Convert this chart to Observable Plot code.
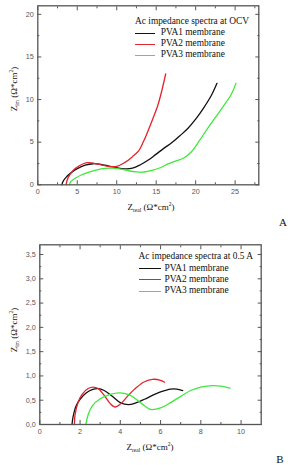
<!DOCTYPE html>
<html>
<head>
<meta charset="utf-8">
<script src="https://cdn.jsdelivr.net/npm/d3@7"></script>
<script src="https://cdn.jsdelivr.net/npm/@observablehq/plot@0.6"></script>
<style>
  body { margin: 0; background: #fff; }
  #fig { position: relative; width: 290px; height: 465px; font-family: "Liberation Serif", "Times New Roman", serif; color: #111; }
  .panel { position: absolute; left: 0; }
  .lg { position: absolute; font-size: 9.4px; line-height: 11px; white-space: nowrap; }
  .lg .sw { display: inline-block; height: 0; border-top: 1.4px solid; vertical-align: middle; }
  .xl { position: absolute; font-size: 9px; white-space: nowrap; transform: translate(-50%, -50%); }
  .yl { position: absolute; font-size: 9px; white-space: nowrap; transform: translate(-50%, -50%) rotate(-90deg); }
  .xl sub, .yl sub { font-size: 5.5px; vertical-align: -2px; }
  .xl sup, .yl sup { font-size: 5.5px; vertical-align: 4px; }
  .tag { position: absolute; font-size: 11px; transform: translate(-50%, -50%); }
</style>
</head>
<body>
<div id="fig"></div>
<script>
// Series shared by both panels
const seriesNames = ["PVA1 membrane", "PVA2 membrane", "PVA3 membrane"];
const seriesColors = ["#111111", "#e3232a", "#3fe83b"];

// Panel A: spectra at open-circuit voltage (Z_real, Z_im in Ω·cm²)
const ocvPva1Re = [3.05, 3.2, 3.6, 4.2, 5.0, 6.0, 7.0, 8.0, 9.0, 10.0, 11.0, 12.0, 13.0, 14.0, 15.0, 16.0, 17.0, 18.0, 19.0, 20.0, 21.0, 22.0, 22.7];
const ocvPva1Im = [0.0, 0.4, 0.9, 1.4, 1.9, 2.3, 2.47, 2.4, 2.2, 2.0, 1.88, 1.95, 2.35, 2.9, 3.6, 4.3, 4.95, 5.75, 6.6, 7.7, 9.0, 10.5, 11.9];
const ocvPva2Re = [3.6, 3.7, 4.0, 4.5, 5.2, 6.2, 7.0, 8.0, 9.0, 10.0, 11.0, 12.0, 12.8, 13.4, 14.0, 14.6, 15.2, 15.7, 16.2];
const ocvPva2Im = [0.0, 0.5, 1.1, 1.7, 2.2, 2.6, 2.55, 2.35, 2.15, 2.15, 2.6, 3.3, 4.0, 5.1, 6.4, 7.8, 9.3, 11.0, 13.0];
const ocvPva3Re = [4.0, 4.2, 4.8, 5.5, 6.5, 7.5, 8.5, 9.5, 10.5, 11.5, 12.5, 13.5, 14.5, 15.5, 16.5, 17.5, 18.5, 19.5, 20.5, 21.5, 22.5, 23.5, 24.5, 25.1];
const ocvPva3Im = [0.0, 0.4, 0.8, 1.15, 1.5, 1.76, 1.92, 1.95, 1.85, 1.65, 1.52, 1.5, 1.7, 2.0, 2.45, 2.8, 3.15, 3.9, 5.2, 6.6, 7.9, 9.2, 10.6, 11.9];

// Panel B: spectra at 0.5 A
const curPva1Re = [1.6, 1.65, 1.8, 2.0, 2.3, 2.6, 2.9, 3.2, 3.6, 4.0, 4.4, 4.8, 5.2, 5.6, 6.0, 6.5, 6.8, 7.1];
const curPva1Im = [0.0, 0.15, 0.38, 0.52, 0.65, 0.72, 0.74, 0.7, 0.58, 0.45, 0.41, 0.45, 0.52, 0.6, 0.67, 0.73, 0.73, 0.7];
const curPva2Re = [1.72, 1.75, 1.9, 2.1, 2.4, 2.65, 2.9, 3.2, 3.5, 3.75, 4.0, 4.4, 4.8, 5.2, 5.6, 6.0, 6.2];
const curPva2Im = [0.0, 0.2, 0.45, 0.62, 0.74, 0.77, 0.74, 0.6, 0.43, 0.36, 0.42, 0.6, 0.76, 0.88, 0.93, 0.91, 0.87];
const curPva3Re = [2.29, 2.4, 2.6, 3.0, 3.5, 4.0, 4.5, 5.0, 5.5, 6.0, 6.5, 7.0, 7.5, 8.0, 8.6, 9.0, 9.45];
const curPva3Im = [0.0, 0.2, 0.38, 0.53, 0.62, 0.65, 0.6, 0.45, 0.31, 0.34, 0.45, 0.58, 0.7, 0.77, 0.8, 0.79, 0.75];

// Axis ticks
const aXMajor = [0, 5, 10, 15, 20, 25];
const aXMinor = [2.5, 7.5, 12.5, 17.5, 22.5, 27.5];
const aYMajor = [0, 5, 10, 15, 20];
const aYMinor = [2.5, 7.5, 12.5, 17.5];
const bXMajor = [0, 2, 4, 6, 8, 10];
const bXMinor = [1, 3, 5, 7, 9];
const bYMajor = [0, 0.5, 1, 1.5, 2, 2.5, 3, 3.5];
const bYMinor = [0.25, 0.75, 1.25, 1.75, 2.25, 2.75, 3.25];

const legendTitles = ["Ac impedance spectra at OCV", "Ac impedance spectra at 0.5 A"];

function toRows(pairs) {
  return pairs.flatMap(([re, im], i) => re.map((r, j) => ({series: seriesNames[i], re: r, im: im[j]})));
}

const axisColor = "#555";
const tickFont = {fontSize: 7.2, fontFamily: "'Liberation Sans', Arial, sans-serif", color: "#555"};
const blank = () => "";

function panel({rows, xDomain, yDomain, xMajor, xMinor, yMajor, yMinor, yFormat, height, margin}) {
  const ax = (Axis, ticks, anchor, size) => Axis(ticks, {anchor, tickSize: -size, tickFormat: blank, label: null, stroke: axisColor, strokeWidth: 1});
  return Plot.plot({
    width: 290,
    height,
    ...margin,
    style: {background: "transparent", overflow: "visible"},
    x: {domain: xDomain, axis: null},
    y: {domain: yDomain, axis: null},
    color: {domain: seriesNames, range: seriesColors},
    marks: [
      Plot.line(rows, {x: "re", y: "im", z: "series", stroke: "series", curve: "catmull-rom", strokeWidth: 1.3}),
      ax(Plot.axisX, xMajor, "bottom", 4), ax(Plot.axisX, xMinor, "bottom", 2),
      ax(Plot.axisX, xMajor, "top", 4), ax(Plot.axisX, xMinor, "top", 2),
      ax(Plot.axisY, yMajor, "left", 4), ax(Plot.axisY, yMinor, "left", 2),
      ax(Plot.axisY, yMajor, "right", 4), ax(Plot.axisY, yMinor, "right", 2),
      Plot.axisX(xMajor, {anchor: "bottom", tickSize: 0, tickPadding: 4, label: null, ...tickFont}),
      Plot.axisY(yMajor, {anchor: "left", tickSize: 0, tickPadding: 4, label: null, tickFormat: yFormat, ...tickFont}),
      Plot.frame({stroke: axisColor, strokeWidth: 1.3})
    ]
  });
}

const fig = document.getElementById("fig");

function place(el, top) {
  el.classList.add("panel");
  el.style.top = top + "px";
  fig.appendChild(el);
}

place(panel({
  rows: toRows([[ocvPva1Re, ocvPva1Im], [ocvPva2Re, ocvPva2Im], [ocvPva3Re, ocvPva3Im]]),
  xDomain: [0, 28], yDomain: [0, 21],
  xMajor: aXMajor, xMinor: aXMinor, yMajor: aYMajor, yMinor: aYMinor,
  yFormat: d3.format("d"),
  height: 230,
  margin: {marginLeft: 37.3, marginRight: 31.7, marginTop: 5.3, marginBottom: 45.7}
}), 0);

place(panel({
  rows: toRows([[curPva1Re, curPva1Im], [curPva2Re, curPva2Im], [curPva3Re, curPva3Im]]),
  xDomain: [0, 11], yDomain: [0, 3.7],
  xMajor: bXMajor, xMinor: bXMinor, yMajor: bYMajor, yMinor: bYMinor,
  yFormat: d => d.toFixed(1).replace(".", ","),
  height: 235,
  margin: {marginLeft: 39.3, marginRight: 29.3, marginTop: 14.3, marginBottom: 41}
}), 230);

// Legends
function legend(title, left, top, lineH, swatchW, gap) {
  const d = document.createElement("div");
  d.className = "lg";
  d.style.left = left + "px";
  d.style.top = top + "px";
  d.style.lineHeight = lineH + "px";
  const t = document.createElement("div");
  t.textContent = title;
  d.appendChild(t);
  seriesNames.forEach((name, i) => {
    const row = document.createElement("div");
    const sw = document.createElement("span");
    sw.className = "sw";
    sw.style.width = swatchW + "px";
    sw.style.marginRight = gap + "px";
    sw.style.borderColor = seriesColors[i];
    row.appendChild(sw);
    row.appendChild(document.createTextNode(name));
    d.appendChild(row);
  });
  fig.appendChild(d);
}
legend(legendTitles[0], 135, 16.2, 11, 20, 5.7);
legend(legendTitles[1], 138.5, 251.2, 11.4, 22, 4);

// Axis titles and panel tags
function html(cls, content, x, y) {
  const d = document.createElement("div");
  d.className = cls;
  d.innerHTML = content;
  d.style.left = x + "px";
  d.style.top = y + "px";
  fig.appendChild(d);
}
const xTitle = "Z<sub>real</sub> (Ω*cm<sup>2</sup>)";
const yTitle = "Z<sub>im</sub> (Ω*cm<sup>2</sup>)";
html("xl", xTitle, 151, 207);
html("yl", yTitle, 14, 89);
html("xl", xTitle, 150, 447);
html("yl", yTitle, 14, 330);
html("tag", "A", 283, 222);
html("tag", "B", 280, 459);
</script>
</body>
</html>
